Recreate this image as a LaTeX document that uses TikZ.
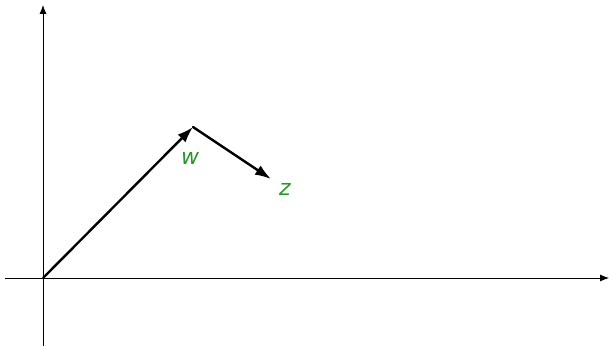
\documentclass[tikz,border=0pt]{standalone}
\usepackage{fontspec}
\setsansfont{DejaVu Sans}
\usetikzlibrary{arrows.meta}
\definecolor{lblgreen}{RGB}{40,150,40}

\begin{document}
\begin{tikzpicture}[x=1pt, y=1pt, line width=0.8pt,
  vec/.style={line width=2.4pt, -{Latex[length=16pt, width=11pt]}},
  axis/.style={line width=0.8pt, -{Latex[length=9pt, width=7pt]}},
  lbl/.style={text=lblgreen, font=\sffamily\itshape\fontsize{22}{22}\selectfont, inner sep=0pt}]
  \useasboundingbox (-43,-68) rectangle (566,278);
  \coordinate (O) at (0,0);
  \coordinate (Xl) at (-38,0);
  \coordinate (Xr) at (566,0);
  \coordinate (Yb) at (0,-68);
  \coordinate (Yt) at (0,273);
  \coordinate (W) at (150,151);
  \coordinate (Z) at (228,99);
  \draw[axis] (Xl) -- (Xr);
  \draw[axis] (Yb) -- (Yt);
  \draw[vec] (O) -- (W);
  \draw[vec, line cap=round] (W) -- (Z);
  \node[lbl] (wl) at (147,120) {w};
  \node[lbl] (zl) at (242,89) {z};
\end{tikzpicture}
\end{document}
